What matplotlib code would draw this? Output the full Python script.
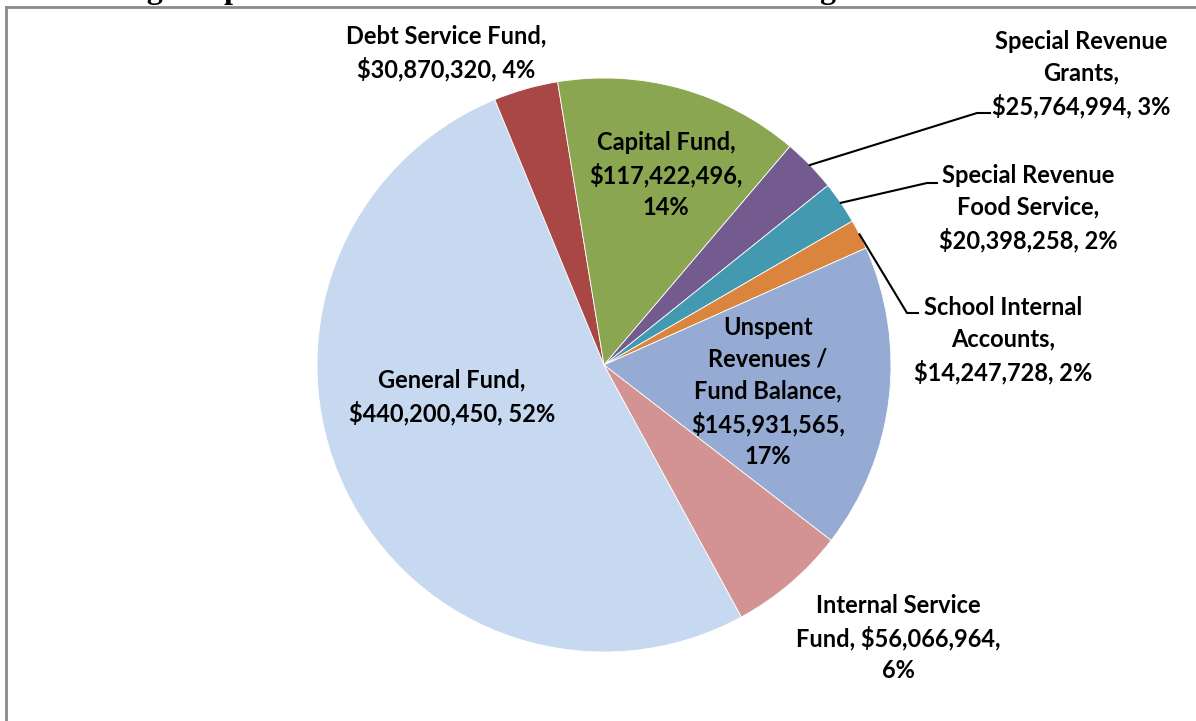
import matplotlib as mpl
mpl.use('agg')
import matplotlib.pyplot as plt
from matplotlib.lines import Line2D
import numpy as np

W, H = 1196, 721

funds = ["General Fund", "Debt Service Fund", "Capital Fund",
         "Special Revenue Grants", "Special Revenue Food Service",
         "School Internal Accounts", "Unspent Revenues / Fund Balance",
         "Internal Service Fund"]
amounts = [440200450, 30870320, 117422496, 25764994, 20398258,
           14247728, 145931565, 56066964]
label_texts = [
    "General Fund,\n$440,200,450, 52%",
    "Debt Service Fund,\n$30,870,320, 4%",
    "Capital Fund,\n$117,422,496,\n14%",
    "Special Revenue\nGrants,\n$25,764,994, 3%",
    "Special Revenue\nFood Service,\n$20,398,258, 2%",
    "School Internal\nAccounts,\n$14,247,728, 2%",
    "Unspent\nRevenues /\nFund Balance,\n$145,931,565,\n17%",
    "Internal Service\nFund, $56,066,964,\n6%",
]
colors = ["#C6D9F0", "#A84744", "#8BA650", "#735A8F", "#4299B0",
          "#DB843D", "#95ABD3", "#D39393"]

# label centres in pixel coords (from top-left)
label_pos = [(452, 397), (446, 53), (666, 175), (1081, 74), (1028, 208),
             (1003, 340), (768, 392), (898, 638)]
# leader knees (pixels) for the small slices
leaders = {3: [(977, 113), (990, 113)],
           4: [(927, 183), (937, 183)],
           5: [(907, 313), (918, 313)]}

cx, cy, R = 604, 365, 287

fig = plt.figure(figsize=(W / 100, H / 100), dpi=100)
ax = fig.add_axes([(cx - R) / W, (H - cy - R) / H, 2 * R / W, 2 * R / H])
wedges, _ = ax.pie(amounts, colors=colors, startangle=90 - 151.4,
                   counterclock=False, radius=1.0,
                   wedgeprops=dict(linewidth=0.6, edgecolor='white'))
ax.set_xlim(-1, 1)
ax.set_ylim(-1, 1)
ax.axis('off')


def fx(x):
    return x / W


def fy(y):
    return 1 - y / H


def to_data(px, py):
    return (px - cx) / R, (cy - py) / R


for txt, (px, py) in zip(label_texts, label_pos):
    fig.text(fx(px), fy(py), txt, ha='center', va='center',
             fontsize=17, fontweight='bold', family='Lato',
             linespacing=1.45, color='black')

for i, knees in leaders.items():
    w = wedges[i]
    ang = np.deg2rad((w.theta1 + w.theta2) / 2)
    xs = [np.cos(ang)] + [to_data(*k)[0] for k in knees]
    ys = [np.sin(ang)] + [to_data(*k)[1] for k in knees]
    ax.plot(xs, ys, color='black', lw=1.5, clip_on=False)

# frame of the chart area (cut off at right and bottom)
fig.add_artist(Line2D([fx(6), fx(6)], [fy(7), 0], color='#8a8a8a', lw=2))
fig.add_artist(Line2D([fx(6), 1], [fy(7), fy(7)], color='#8a8a8a', lw=2))

# title, mostly cut off above the figure
fig.text(fx(1192), fy(-2), "Including Unspent Revenues / Fund Balance and Including Transfers Between Funds",
         ha='right', va='baseline', fontsize=23, fontweight='bold',
         family='Liberation Serif')

fig.savefig('out.png', dpi=100)
